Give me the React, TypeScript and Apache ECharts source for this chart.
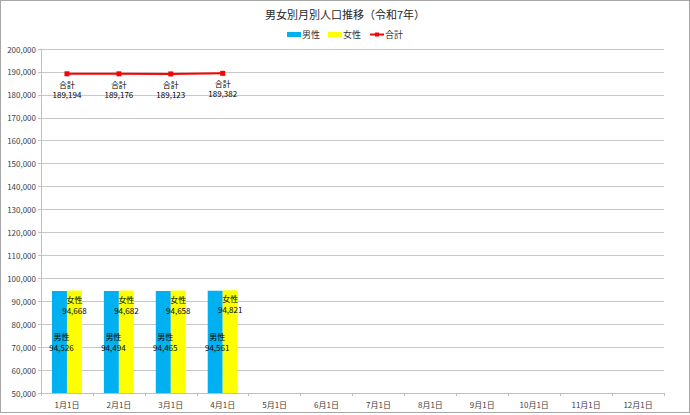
import {useEffect, useRef} from 'react';
import * as echarts from 'echarts';

const categories = ['1月1日', '2月1日', '3月1日', '4月1日', '5月1日', '6月1日', '7月1日', '8月1日', '9月1日', '10月1日', '11月1日', '12月1日'];
const male = [94526, 94494, 94465, 94561];
const female = [94668, 94682, 94658, 94821];
const total = [189194, 189176, 189123, 189382];

const fmt = (v: number) => v.toLocaleString('en-US');
const font = '"Noto Sans CJK JP", "Noto Sans", sans-serif';

export default function App() {
    const ref = useRef<HTMLDivElement | null>(null);

    useEffect(() => {
        if (!ref.current) return;
        const chart = echarts.init(ref.current, null, {renderer: 'svg'});
        chart.setOption({
            animation: false,
            textStyle: {fontFamily: font},
            title: {
                text: '男女別月別人口推移（令和7年）',
                left: 'center', top: 3,
                textStyle: {fontSize: 11, fontWeight: 'normal', color: '#262626', fontFamily: font}
            },
            legend: {
                top: 25, left: 'center',
                itemWidth: 14, itemHeight: 5, itemGap: 8,
                textStyle: {fontSize: 9, color: '#333333', padding: [0, 0, 0, -4]},
                data: [
                    {name: '男性', icon: 'rect'},
                    {name: '女性', icon: 'rect'},
                    {name: '合計'}
                ]
            },
            grid: {left: 41, right: 26, top: 49, bottom: 22},
            xAxis: {
                type: 'category',
                data: categories,
                axisLine: {lineStyle: {color: '#bfbfbf'}},
                axisTick: {show: true, length: 3, lineStyle: {color: '#bfbfbf'}},
                axisLabel: {fontSize: 8, color: '#404040', margin: 7}
            },
            yAxis: {
                type: 'value',
                min: 50000, max: 200000, interval: 10000,
                axisLine: {show: true, lineStyle: {color: '#bfbfbf'}},
                axisTick: {show: true, length: 3, lineStyle: {color: '#bfbfbf'}},
                axisLabel: {fontSize: 8, color: '#404040', margin: 5, formatter: (v: number) => fmt(v)},
                splitLine: {lineStyle: {color: '#c8c8c8', width: 1}}
            },
            series: [
                {
                    name: '男性', type: 'bar', data: male,
                    barWidth: 15, barGap: '0%',
                    itemStyle: {color: '#00b0f0'},
                    label: {
                        show: true, position: 'inside', offset: [2, 0],
                        fontSize: 8, lineHeight: 11, color: '#000000',
                        formatter: (p: any) => '男性\n' + fmt(p.value)
                    }
                },
                {
                    name: '女性', type: 'bar', data: female,
                    barWidth: 15,
                    itemStyle: {color: '#ffff00'},
                    label: {
                        show: true, position: 'insideTop', distance: 3,
                        fontSize: 8, lineHeight: 11, color: '#000000',
                        formatter: (p: any) => '女性\n' + fmt(p.value)
                    }
                },
                {
                    name: '合計', type: 'line', data: total,
                    symbol: 'rect', symbolSize: 5,
                    itemStyle: {color: '#ff0000'},
                    lineStyle: {color: '#ff0000', width: 2},
                    label: {
                        show: true, position: 'bottom', distance: 3,
                        fontSize: 8, lineHeight: 10, color: '#000000',
                        formatter: (p: any) => '合計\n' + fmt(p.value)
                    }
                }
            ]
        });
        return () => chart.dispose();
    }, []);

    return (
        <div style={{position: 'fixed', left: 0, top: 0, width: 690, height: 415, background: '#ffffff'}}>
            <div style={{position: 'absolute', left: 0, top: 0, width: 690, height: 413, boxSizing: 'border-box', border: '1px solid #a6a6a6'}}/>
            <div ref={ref} style={{position: 'absolute', left: 0, top: 0, width: 690, height: 415}}/>
        </div>
    );
}
